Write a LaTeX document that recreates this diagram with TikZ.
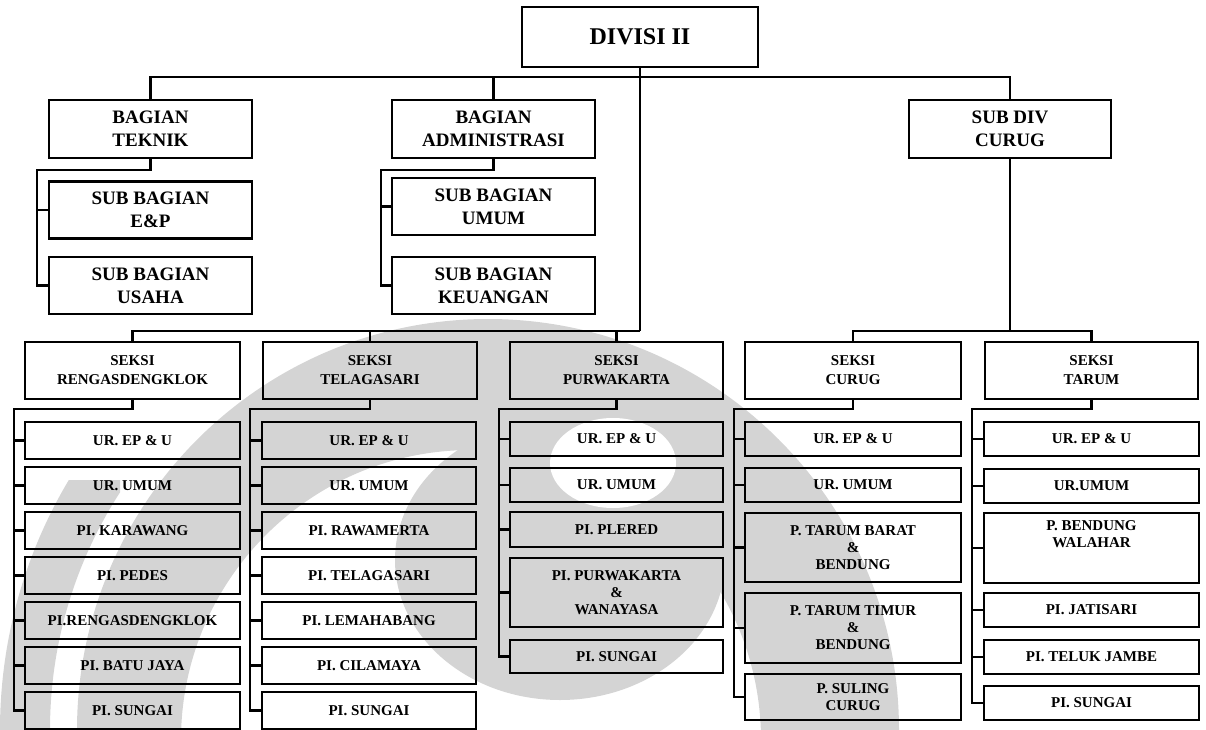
\documentclass[tikz,border=0pt]{standalone}
\usepackage{fontspec}
\setmainfont{Liberation Serif}
\begin{document}
\begin{tikzpicture}[x=1pt,y=-1pt,
  wm/.style={black!17},
  conn/.style={draw=black, line width=2.3pt},
  box/.style={draw=black, line width=2.2pt, inner sep=0pt, align=center},
  lvone/.style={box, font=\bfseries\fontsize{24}{28}\selectfont},
  lvtwo/.style={box, minimum width=203pt, minimum height=58pt, font=\bfseries\fontsize{19}{23}\selectfont},
  seksi/.style={box, minimum height=57pt, font=\bfseries\fontsize{15}{19}\selectfont},
  unit/.style={box, font=\bfseries\fontsize{15}{17}\selectfont},
  lbl/.style={inner sep=0pt, align=center, font=\bfseries\fontsize{15}{17}\selectfont}]
\useasboundingbox (0,0) rectangle (1206,730);
% watermark
\begin{scope}
\clip (0,0) rectangle (1206,730);
\fill[wm, even odd rule] (488,730) circle [radius=411] (471,740) circle [radius=290];
\fill[wm] (560,560) ellipse [x radius=165, y radius=140];
\fill[white] (613,463) ellipse [x radius=63, y radius=45];
\end{scope}
\begin{scope}
\clip (0,480) rectangle (120,730);
\draw[wm, line width=50pt] (488,730) circle [radius=463];
\end{scope}
% level 1 and 2
\node[lvone, minimum width=236pt, minimum height=60pt] (div) at (640,37) {DIVISI II};
\node[lvtwo] (tek) at (150.5,129) {BAGIAN\\TEKNIK};
\node[lvtwo] (adm) at (493.5,129) {BAGIAN\\ADMINISTRASI};
\node[lvtwo, minimum width=202pt] (sdc) at (1010,129) {SUB DIV\\CURUG};
\node[lvtwo, minimum height=57pt] (ep) at (150.5,210) {SUB BAGIAN\\E\&P};
\node[lvtwo, minimum height=57pt] (us) at (150.5,285.5) {SUB BAGIAN\\USAHA};
\node[lvtwo, minimum height=57pt] (um) at (493.5,206.5) {SUB BAGIAN\\UMUM};
\node[lvtwo, minimum height=57pt] (ke) at (493.5,285.5) {SUB BAGIAN\\KEUANGAN};
% seksi row
\node[seksi, minimum width=215pt] (rs) at (132.5,370.5) {SEKSI\\RENGASDENGKLOK};
\node[seksi, minimum width=214pt] (ts) at (370,370.5) {SEKSI\\TELAGASARI};
\node[seksi, minimum width=213pt] (ps) at (616.5,370.5) {SEKSI\\PURWAKARTA};
\node[seksi, minimum width=216pt] (cs) at (853,370.5) {SEKSI\\CURUG};
\node[seksi, minimum width=213pt] (tas) at (1091.5,370.5) {SEKSI\\TARUM};
% rengasdengklok units
\begin{scope}[every node/.style={unit, minimum width=215pt, minimum height=37pt}]
\node (r1) at (132.5,440.5) {UR. EP \& U};
\node (r2) at (132.5,485.5) {UR. UMUM};
\node (r3) at (132.5,530.5) {PI. KARAWANG};
\node (r4) at (132.5,575.5) {PI. PEDES};
\node (r5) at (132.5,620.5) {PI.RENGASDENGKLOK};
\node (r6) at (132.5,665.5) {PI. BATU JAYA};
\node (r7) at (132.5,710.5) {PI. SUNGAI};
\end{scope}
% telagasari units
\begin{scope}[every node/.style={unit, minimum width=214pt, minimum height=37pt}]
\node (t1) at (369,440.5) {UR. EP \& U};
\node (t2) at (369,485.5) {UR. UMUM};
\node (t3) at (369,530.5) {PI. RAWAMERTA};
\node (t4) at (369,575.5) {PI. TELAGASARI};
\node (t5) at (369,620.5) {PI. LEMAHABANG};
\node (t6) at (369,665.5) {PI. CILAMAYA};
\node (t7) at (369,710.5) {PI. SUNGAI};
\end{scope}
% purwakarta units
\begin{scope}[every node/.style={unit, minimum width=213pt}]
\node[minimum height=34pt] (p1) at (616.5,439) {UR. EP \& U};
\node[minimum height=34pt] (p2) at (616.5,485) {UR. UMUM};
\node[minimum height=35pt] (p3) at (616.5,529.5) {PI. PLERED};
\node[minimum height=69pt] (p4) at (616.5,592.5) {PI. PURWAKARTA\\\&\\WANAYASA};
\node[minimum height=33pt] (p5) at (616.5,656.5) {PI. SUNGAI};
\end{scope}
% curug units
\begin{scope}[every node/.style={unit, minimum width=216pt}]
\node[minimum height=34pt] (c1) at (853,439) {UR. EP \& U};
\node[minimum height=34pt] (c2) at (853,485) {UR. UMUM};
\node[minimum height=69pt] (c3) at (853,547.5) {P. TARUM BARAT\\\&\\BENDUNG};
\node[minimum height=70pt] (c4) at (853,628) {P. TARUM TIMUR\\\&\\BENDUNG};
\node[minimum height=46pt] (c5) at (853,697) {P. SULING\\CURUG};
\end{scope}
% tarum units
\begin{scope}[every node/.style={unit, minimum width=215pt}]
\node[minimum height=34pt] (a1) at (1091.5,439) {UR. EP \& U};
\node[minimum height=34pt] (a2) at (1091.5,486) {UR.UMUM};
\node[minimum height=70pt] (a3) at (1091.5,548) {};
\node[minimum height=34pt] (a4) at (1091.5,610) {PI. JATISARI};
\node[minimum height=34pt] (a5) at (1091.5,657) {PI. TELUK JAMBE};
\node[minimum height=34pt] (a6) at (1091.5,703) {PI. SUNGAI};
\end{scope}
\node[lbl, anchor=north] (a3lab) at ([yshift=-8pt]a3.north) {P. BENDUNG\\WALAHAR};
% connectors top
\coordinate (h1) at (640,77);
\coordinate (h2) at (640,331);
\draw[conn] (tek.north) |- (h1) -| (sdc.north);
\draw[conn] (adm.north) -- (adm.north |- h1);
\draw[conn] (div.south) -- (h2);
\draw[conn] (rs.north) |- (h2);
\draw[conn] (ts.north) -- (ts.north |- h2);
\draw[conn] (ps.north) -- (ps.north |- h2);
\draw[conn] (sdc.south) -- (sdc.south |- h2);
\draw[conn] (cs.north) |- (h2 -| tas.north) -- (tas.north);
% bagian sub connectors
\coordinate (tb) at (37,170);
\draw[conn] (tek.south) |- (tb) -- (tb |- us.west) -- (us.west);
\draw[conn] (tb |- ep.west) -- (ep.west);
\coordinate (ab) at (381,170);
\draw[conn] (adm.south) |- (ab) -- (ab |- ke.west) -- (ke.west);
\draw[conn] (ab |- um.west) -- (um.west);
% seksi buses
\coordinate (rb) at (14,409);
\draw[conn] (rs.south) |- (rb) -- (rb |- r7.west) -- (r7.west);
\foreach \n in {r1,r2,r3,r4,r5,r6} \draw[conn] (rb |- \n.west) -- (\n.west);
\coordinate (tbus) at (250,409);
\draw[conn] (ts.south) |- (tbus) -- (tbus |- t7.west) -- (t7.west);
\foreach \n in {t1,t2,t3,t4,t5,t6} \draw[conn] (tbus |- \n.west) -- (\n.west);
\coordinate (pb) at (499,409);
\draw[conn] (ps.south) |- (pb) -- (pb |- p5.west) -- (p5.west);
\foreach \n in {p1,p2,p3,p4} \draw[conn] (pb |- \n.west) -- (\n.west);
\coordinate (cb) at (734,409);
\draw[conn] (cs.south) |- (cb) -- (cb |- c5.west) -- (c5.west);
\foreach \n in {c1,c2,c3,c4} \draw[conn] (cb |- \n.west) -- (\n.west);
\coordinate (tab) at (972,409);
\draw[conn] (tas.south) |- (tab) -- (tab |- a6.west) -- (a6.west);
\foreach \n in {a1,a2,a3,a4,a5} \draw[conn] (tab |- \n.west) -- (\n.west);
\end{tikzpicture}
\end{document}
